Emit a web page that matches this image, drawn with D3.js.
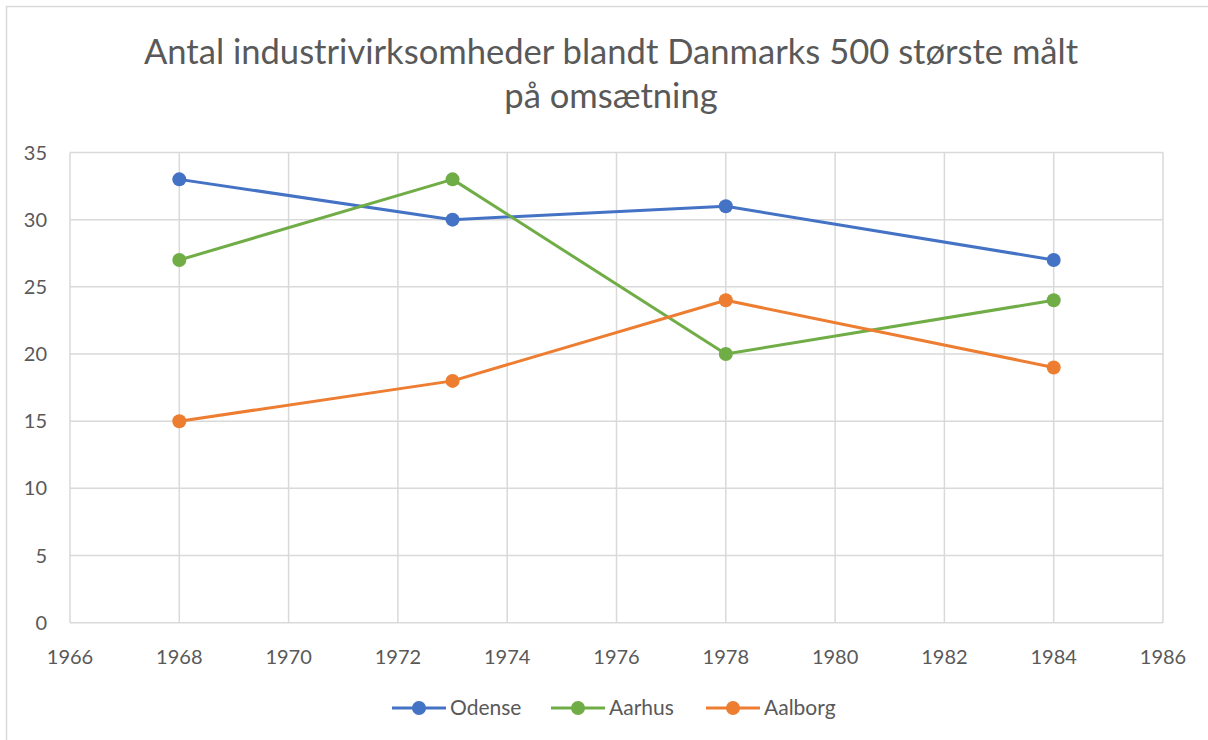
<!DOCTYPE html>
<html>
<head>
<meta charset="utf-8">
<script src="https://cdn.jsdelivr.net/npm/d3@7"></script>
<style>
  body { margin: 0; background: #fff; }
  text { font-family: Lato, "Open Sans", sans-serif; fill: #595959; }
</style>
</head>
<body>
<div id="vis-container"></div>
<script>
// data
var years = [1968, 1973, 1978, 1984];
var odense = [33, 30, 31, 27];
var aarhus = [27, 33, 20, 24];
var aalborg = [15, 18, 24, 19];
var seriesNames = ["Odense", "Aarhus", "Aalborg"];
var seriesColors = ["#4472C4", "#70AD47", "#ED7D31"];
var xTicks = [1966, 1968, 1970, 1972, 1974, 1976, 1978, 1980, 1982, 1984, 1986];
var yTicks = [0, 5, 10, 15, 20, 25, 30, 35];
var titleLines = ["Antal industrivirksomheder blandt Danmarks 500 største målt", "på omsætning"];

var width = 1208, height = 740;
var plot = { left: 70, top: 152.5, right: 1163, bottom: 622.7 };

var svg = d3.select("#vis-container")
  .append("svg")
  .attr("width", width)
  .attr("height", height);

// chart border
svg.append("rect")
  .attr("x", 6.5).attr("y", 6.5)
  .attr("width", 1210).attr("height", 740)
  .attr("fill", "none")
  .attr("stroke", "#d9d9d9")
  .attr("stroke-width", 1.5);

var x = d3.scaleLinear().domain([1966, 1986]).range([plot.left, plot.right]);
var y = d3.scaleLinear().domain([0, 35]).range([plot.bottom, plot.top]);

// gridlines
svg.append("g").selectAll("line.h")
  .data(yTicks).enter().append("line")
  .attr("x1", plot.left).attr("x2", plot.right)
  .attr("y1", function(d) { return y(d); })
  .attr("y2", function(d) { return y(d); })
  .attr("stroke", "#d9d9d9").attr("stroke-width", 1.5);

svg.append("g").selectAll("line.v")
  .data(xTicks).enter().append("line")
  .attr("y1", plot.top).attr("y2", plot.bottom)
  .attr("x1", function(d) { return x(d); })
  .attr("x2", function(d) { return x(d); })
  .attr("stroke", "#d9d9d9").attr("stroke-width", 1.5);

// tick labels
svg.append("g").selectAll("text")
  .data(yTicks).enter().append("text")
  .attr("x", 47).attr("y", function(d) { return y(d); })
  .attr("dy", "0.35em")
  .attr("text-anchor", "end")
  .style("font-size", "20px")
  .text(function(d) { return d; });

svg.append("g").selectAll("text")
  .data(xTicks).enter().append("text")
  .attr("x", function(d) { return x(d); })
  .attr("y", 664)
  .attr("text-anchor", "middle")
  .style("font-size", "20px")
  .text(function(d) { return d; });

// title
svg.append("g").selectAll("text")
  .data(titleLines).enter().append("text")
  .attr("x", 611)
  .attr("y", function(d, i) { return 64 + i * 44; })
  .attr("text-anchor", "middle")
  .style("font-size", "34.6px")
  .text(function(d) { return d; });

// series
var allSeries = [odense, aarhus, aalborg];
var line = d3.line()
  .x(function(d, i) { return x(years[i]); })
  .y(function(d) { return y(d); });

for (var s = 0; s < allSeries.length; ++s) {
  svg.append("path")
    .attr("d", line(allSeries[s]))
    .attr("stroke", seriesColors[s])
    .attr("stroke-width", 3)
    .attr("stroke-linejoin", "round")
    .attr("fill", "none");
  svg.append("g").selectAll("circle")
    .data(allSeries[s]).enter().append("circle")
    .attr("cx", function(d, i) { return x(years[i]); })
    .attr("cy", function(d) { return y(d); })
    .attr("r", 7)
    .attr("fill", seriesColors[s]);
}

// legend
var legendX = [392, 551, 706];
var legend = svg.append("g").selectAll("g")
  .data(seriesNames).enter().append("g")
  .attr("transform", function(d, i) { return "translate(" + legendX[i] + ",708)"; });
legend.append("line")
  .attr("x1", 0).attr("x2", 54)
  .attr("stroke", function(d, i) { return seriesColors[i]; })
  .attr("stroke-width", 3);
legend.append("circle")
  .attr("cx", 27).attr("r", 7)
  .attr("fill", function(d, i) { return seriesColors[i]; });
legend.append("text")
  .attr("x", 58).attr("dy", "0.35em")
  .style("font-size", "21px")
  .text(function(d) { return d; });
</script>
</body>
</html>
